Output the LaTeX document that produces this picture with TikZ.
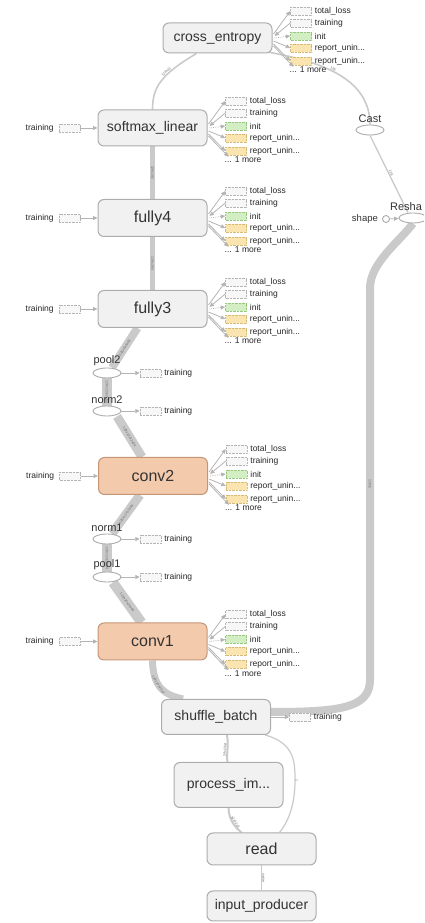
\documentclass[tikz,border=0pt]{standalone}
\usepackage{fontspec}
\setmainfont{Liberation Sans}
\usetikzlibrary{positioning,calc,shapes.geometric,arrows.meta,backgrounds}

\definecolor{opfill}{RGB}{241,241,241}
\definecolor{opline}{RGB}{172,172,172}
\definecolor{convfill}{RGB}{244,202,172}
\definecolor{convline}{RGB}{196,150,118}
\definecolor{flow}{RGB}{202,202,202}
\definecolor{auxline}{RGB}{180,180,180}
\definecolor{initfill}{RGB}{212,238,196}
\definecolor{initline}{RGB}{150,200,130}
\definecolor{reportfill}{RGB}{250,228,176}
\definecolor{reportline}{RGB}{215,185,120}
\definecolor{tinytext}{RGB}{105,105,105}

\tikzset{
  opnode/.style={draw=opline, line width=1pt, fill=opfill, rounded corners=6pt,
    minimum width=109pt, minimum height=37pt, inner sep=0pt,
    font=\fontsize{16}{18}\selectfont, text=black!80},
  longop/.style={opnode, font=\fontsize{14}{16}\selectfont},
  convop/.style={opnode, fill=convfill, draw=convline},
  tensor/.style={ellipse, draw=opline, line width=0.9pt, fill=white,
    minimum width=28pt, minimum height=10pt, inner sep=0pt},
  tensorlab/.style={font=\fontsize{11}{12}\selectfont, inner sep=0pt, text=black!80},
  auxbox/.style={draw=auxline, densely dotted, fill=gray!6,
    minimum width=21pt, minimum height=8pt, inner sep=0pt},
  initbox/.style={auxbox, draw=initline, fill=initfill},
  reportbox/.style={auxbox, draw=reportline, fill=reportfill},
  auxlab/.style={font=\fontsize{8.5}{9}\selectfont, inner sep=0pt, text=black!85},
  auxedge/.style={draw=auxline, line width=0.8pt, -{Triangle[length=4.5pt,width=4pt]}},
  flowedge/.style={draw=flow, line width=#1},
  flowedge/.default=2pt,
  dimlab/.style={font=\fontsize{3.5}{4}\selectfont, text=tinytext, sloped, inner sep=0pt},
}

\newcommand{\trunc}{...}
% summary outputs on the right of an op
\newcommand{\summaryfan}[1]{%
  \foreach \dy/\boxsty/\txt [count=\k] in {27/auxbox/total\_loss, 15/auxbox/training,
      2/initbox/init, -10/reportbox/report\_unin\trunc, -23/reportbox/report\_unin\trunc}{
    \node[\boxsty] (#1s\k) at ($(#1.east)+(28.5,\dy)$) {};
    \node[auxlab, right=3pt of #1s\k] {\txt};
  }
  \node[auxlab, anchor=west] (#1more) at ($(#1.east)+(17,-32)$) {... 1 more};
  \draw[auxedge] ($(#1.east)+(1,4)$) -- (#1s1.west);
  \draw[auxedge] (#1s2.west) -- ($(#1.east)+(2,2)$);
  \draw[auxedge, densely dotted] ($(#1.east)+(2,0)$) -- (#1s3.west);
  \draw[auxedge] ($(#1.east)+(1,-3)$) -- (#1s4.west);
  \draw[auxedge] ($(#1.east)+(1,-6)$) -- (#1s5.west);
  \draw[auxedge] ($(#1.east)+(1,-8)$) -- ($(#1more.north west)+(4,0)$);
}
% training input on the left
\newcommand{\trainingin}[1]{%
  \node[auxbox] (#1t) at ($(#1.west)+(-28,0)$) {};
  \node[auxlab, left=5pt of #1t] {training};
  \draw[auxedge] (#1t) -- (#1.west);
}
% training output on the right
\newcommand{\trainingout}[1]{%
  \node[auxbox] (#1t) at ($(#1.east)+(29,0)$) {};
  \node[auxlab, right=3pt of #1t] {training};
  \draw[auxedge] (#1.east) -- (#1t);
}

\begin{document}
\begin{tikzpicture}[x=1pt, y=1pt]
  \useasboundingbox (0,0) rectangle (424,923);
  \clip (0,0) rectangle (424,923);

  % ops
  \node[longop, minimum height=30pt] (crossent) at (217.5,885) {cross\_entropy};
  \node[longop, minimum height=36pt] (softmax) at (152.5,795) {softmax\_linear};
  \node[opnode] (fully4) at (152.5,705) {fully4};
  \node[opnode] (fully3) at (152.5,614) {fully3};
  \node[convop] (conv2) at (153,447) {conv2};
  \node[convop] (conv1) at (152.5,281.5) {conv1};
  \node[longop, minimum height=35pt] (shuffle) at (216,206) {shuffle\_batch};
  \node[longop, minimum height=45pt] (process) at (228.5,138) {process\_im...};
  \node[opnode, minimum height=32pt] (read) at (261.5,74) {read};
  \node[longop, minimum height=30pt] (producer) at (261.5,17) {input\_producer};

  % tensors
  \node[tensor] (pool2) at (107,550) {};
  \node[tensor] (norm2) at (107,512) {};
  \node[tensor] (norm1) at (107,384) {};
  \node[tensor] (pool1) at (107,346) {};
  \node[tensor] (cast) at (370,793) {};
  \node[tensor] (reshape) at (413,705) {};
  \node[circle, draw=opline, line width=0.9pt, fill=white, minimum size=7pt,
    inner sep=0pt] (shape) at (386,704) {};

  % data flow
  \begin{scope}[on background layer]
    \draw[flowedge=1.6pt] ($(crossent.south)+(-21,0)$) .. controls (160,848) and (152.5,835)
      .. node[dimlab, pos=0.35, above=0.5pt] {128x10} (softmax.north);
    \draw[flowedge=1.6pt] ($(crossent.south east)+(-8,2)$) .. controls (320,862) and (370,845)
      .. node[dimlab, pos=0.45, above=0.5pt] {128} (cast.north);
    \draw[flowedge=1.3pt] (cast.south) -- node[dimlab, above=0.5pt] {128} ($(reshape.north)+(-5,0)$);
    \draw[flowedge=8pt] (reshape.south) .. controls (400,682) and (370,660) .. (370,635)
      -- node[dimlab] {128x1} (370,243) .. controls (370,215) and (340,211) .. ($(shuffle.east)+(0,5)$);
    \draw[flowedge=4.5pt] (softmax) -- node[dimlab] {128x192} (fully4);
    \draw[flowedge=5.5pt] (fully4) -- node[dimlab] {128x384} (fully3);
    \draw[flowedge=8pt] ($(fully3.south)+(-15,0)$) -- node[dimlab] {128x6x6x64} ($(pool2.north)+(5,0)$);
    \draw[flowedge=10pt] (pool2) -- node[dimlab] {128x12x12x64} (norm2);
    \draw[flowedge=9pt] ($(norm2.south)+(10,0)$) -- node[dimlab] {128x12x12x64} ($(conv2.north)+(-11,0)$);
    \draw[flowedge=9pt] ($(conv2.south)+(-13,0)$) -- node[dimlab] {128x12x12x64} ($(norm1.north)+(5,0)$);
    \draw[flowedge=10pt] (norm1) -- node[dimlab] {128x12x12x64} (pool1);
    \draw[flowedge=10pt] ($(pool1.south)+(6,0)$) -- node[dimlab] {128x24x24x64} ($(conv1.north)+(-11,0)$);
    \draw[flowedge=7pt] (conv1.south) .. controls (153,235) and (165,228)
      .. node[dimlab, pos=0.4] {128x24x24x3} ($(shuffle.north west)+(22,0)$);
    \draw[flowedge=2pt] ($(shuffle.south)+(11,0)$) .. controls (229,175) and (226,170)
      .. node[dimlab, above=0.3pt] {24x24x3} ($(process.north)+(-1,0)$);
    \draw[flowedge=2pt] (process.south) .. controls (229,102) and (236,95)
      .. node[dimlab, above=0.3pt] {32x32x3} ($(read.north)+(-20,0)$);
    \draw[flowedge=1.2pt] ($(shuffle.south east)+(-6,0)$) .. controls (295,180) and (295,160)
      .. node[dimlab, pos=1, above=0.3pt] {1} (295,143) .. controls (295,115) and (287,100) .. ($(read.north)+(18,0)$);
    \draw[flowedge=1.2pt] (read) -- node[dimlab, above=0.3pt] {scalar} (producer);
  \end{scope}

  % tensor labels
  \node[tensorlab, above=2pt of pool2] {pool2};
  \node[tensorlab, above=2pt of norm2] {norm2};
  \node[tensorlab, above=2pt of norm1] {norm1};
  \node[tensorlab, above=2pt of pool1] {pool1};
  \node[tensorlab, above=2pt of cast] {Cast};
  \node[tensorlab, above=2pt of reshape, xshift=-7pt] {Resha};
  \node[tensorlab, font=\fontsize{9.5}{10}\selectfont, left=4pt of shape] {shape};
  \draw[auxedge] (shape) -- (reshape);

  % summaries and training flags
  \summaryfan{crossent}
  \summaryfan{softmax}
  \summaryfan{fully4}
  \summaryfan{fully3}
  \summaryfan{conv2}
  \summaryfan{conv1}
  \trainingin{softmax}
  \trainingin{fully4}
  \trainingin{fully3}
  \trainingin{conv2}
  \trainingin{conv1}
  \trainingout{pool2}
  \trainingout{norm2}
  \trainingout{norm1}
  \trainingout{pool1}
  \trainingout{shuffle}
\end{tikzpicture}
\end{document}
